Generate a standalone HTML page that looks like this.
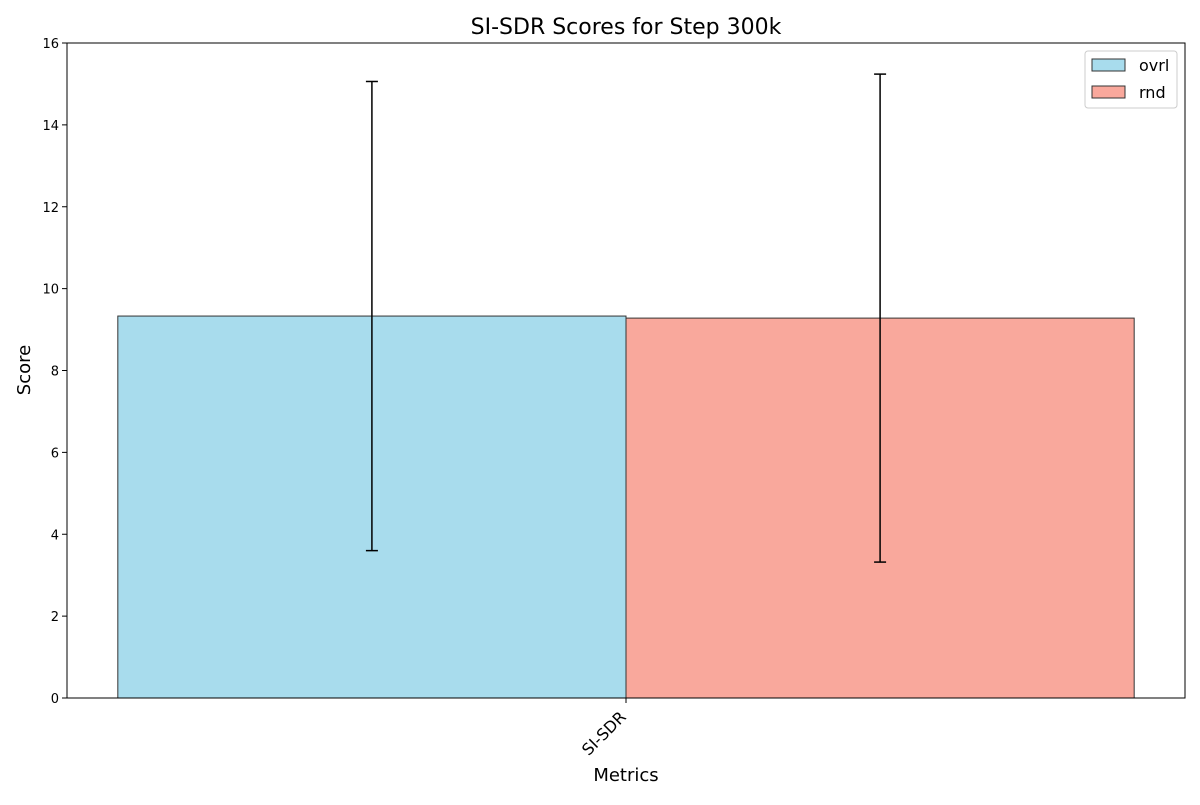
<!DOCTYPE html>
<html><head><meta charset="utf-8"><style>
body{margin:0;background:#fff;font-family:"Liberation Sans","DejaVu Sans",sans-serif;}
svg text{font-family:"DejaVu Sans","Liberation Sans",sans-serif;}
</style></head><body>
<svg id="chart" width="1200" height="800" viewBox="0 0 1200 800" xmlns="http://www.w3.org/2000/svg">
<rect width="1200" height="800" fill="#fff"/>
<text x="626" y="34" text-anchor="middle" font-size="22">SI-SDR Scores for Step 300k</text>
<g id="grid"></g>
<g id="bars"></g>
<rect x="67" y="43" width="1118" height="655" fill="none" stroke="#000" stroke-width="1"/>
<text x="626" y="781" text-anchor="middle" font-size="18">Metrics</text>
<text transform="translate(30,370) rotate(-90)" text-anchor="middle" font-size="18">Score</text>
<g>
<rect x="1085" y="51" width="92" height="57" rx="3" fill="#fff" stroke="#ccc"/>
<rect x="1092" y="59" width="33" height="12" fill="#a8dced" stroke="#333"/>
<text x="1139" y="71" font-size="16">ovrl</text>
<rect x="1092" y="86" width="33" height="12" fill="#f9a89c" stroke="#333"/>
<text x="1139" y="98" font-size="16">rnd</text>
</g>
</svg>
<script>
const categories = ["SI-SDR"];
const seriesNames = ["ovrl", "rnd"];
const ovrlValues = [9.33];
const rndValues = [9.28];
const ovrlErrors = [5.73];
const rndErrors = [5.96];
const yTicks = [0, 2, 4, 6, 8, 10, 12, 14, 16];

const NS = "http://www.w3.org/2000/svg";
const pLeft = 67, pRight = 1185, pTop = 43, pBottom = 698;
const yMin = 0, yMax = 16, xMin = -0.44, xMax = 0.44;
const yScale = v => pBottom - (v - yMin) / (yMax - yMin) * (pBottom - pTop);
const xScale = v => pLeft + (v - xMin) / (xMax - xMin) * (pRight - pLeft);
const colors = ["#a8dced", "#f9a89c"];
const values = [ovrlValues, rndValues];
const errors = [ovrlErrors, rndErrors];
const barW = 0.4;
function mk(tag, attrs, parent) {
  const e = document.createElementNS(NS, tag);
  for (const k in attrs) e.setAttribute(k, attrs[k]);
  parent.appendChild(e); return e;
}
const grid = document.getElementById("grid");
yTicks.forEach(t => {
  const l = mk("line", {x1: pLeft - 5, x2: pLeft, y1: yScale(t), y2: yScale(t), stroke: "#000"}, grid);
  
  
  const tx = mk("text", {x: pLeft - 8, y: yScale(t) + 5, "text-anchor": "end", "font-size": "13"}, grid);
  tx.textContent = t;
  
  
});
const bars = document.getElementById("bars");
categories.forEach((c, i) => {
  values.forEach((vals, s) => {
    const x0 = xScale(i + (s - 1) * barW);
    const r = mk("rect", {x: x0, y: yScale(vals[i]), width: xScale(i + s * barW) - x0, height: yScale(0) - yScale(vals[i]), fill: colors[s], stroke: "#333", "stroke-width": 1}, bars);
    
    
    const cx = xScale(i + (s - 0.5) * barW);
    const hi = yScale(vals[i] + errors[s][i]), lo = yScale(vals[i] - errors[s][i]);
    const g = mk("g", {stroke: "#000", "stroke-width": 1.5}, bars);
    
    
    mk("line", {x1: cx, x2: cx, y1: hi, y2: lo}, g);
    mk("line", {x1: cx - 6, x2: cx + 6, y1: hi, y2: hi}, g);
    mk("line", {x1: cx - 6, x2: cx + 6, y1: lo, y2: lo}, g);
  });
  const cx = xScale(i);
  const tk = mk("line", {x1: cx, x2: cx, y1: pBottom, y2: pBottom + 5, stroke: "#000"}, bars);
  
  
  const tl = mk("text", {transform: `translate(${cx + 1},${pBottom + 20}) rotate(-45)`, "text-anchor": "end", "font-size": "16"}, bars);
  tl.textContent = c;
  
  
});
</script>
</body></html>
